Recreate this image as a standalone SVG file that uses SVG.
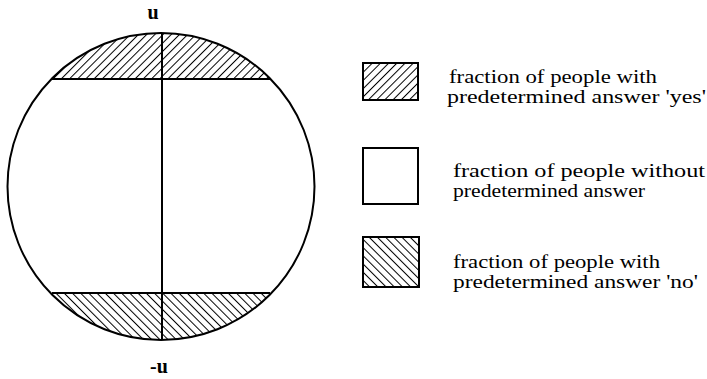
<svg xmlns="http://www.w3.org/2000/svg" width="707" height="379" viewBox="0 0 707 379">
<style>
.ln{fill:none;stroke:#000;stroke-width:2}
.t{font-family:"Liberation Serif","Times New Roman",serif;font-size:18px;fill:#000}
.lbl{font-family:"Liberation Serif","Times New Roman",serif;font-size:20px;fill:#000;font-weight:bold}
</style>
<defs>
<pattern id="yes" patternUnits="userSpaceOnUse" width="5.8" height="8" patternTransform="rotate(45)">
<line x1="0" y1="0" x2="0" y2="8" stroke="#000" stroke-width="2"/>
</pattern>
<pattern id="no" patternUnits="userSpaceOnUse" width="5.8" height="8" patternTransform="rotate(-45)">
<line x1="0" y1="0" x2="0" y2="8" stroke="#000" stroke-width="2"/>
</pattern>
<clipPath id="circ"><circle cx="161" cy="186.5" r="153.5"/></clipPath>
</defs>
<g id="circle">
<g clip-path="url(#circ)">
<rect x="0" y="30" width="330" height="49" fill="url(#yes)"/>
<rect x="0" y="293" width="330" height="50" fill="url(#no)"/>
</g>
<circle cx="161" cy="186.5" r="153.5" class="ln"/>
<line x1="52" y1="79" x2="270" y2="79" class="ln"/>
<line x1="52" y1="293" x2="270" y2="293" class="ln"/>
<line x1="162" y1="33" x2="162" y2="340" class="ln"/>
</g>
<g id="label-u"><text x="153" y="19" class="lbl" text-anchor="middle">u</text></g>
<g id="label-minus-u"><text x="159" y="373" class="lbl" text-anchor="middle">-u</text></g>
<g id="legend-yes">
<rect x="363" y="63" width="55" height="37" fill="url(#yes)" stroke="#000" stroke-width="2"/>
<text x="449" y="83" class="t" textLength="208" lengthAdjust="spacingAndGlyphs">fraction of people with</text>
<text x="447" y="103" class="t" textLength="259" lengthAdjust="spacingAndGlyphs">predetermined answer 'yes'</text>
</g>
<g id="legend-none">
<rect x="363" y="148" width="55" height="56" fill="#fff" stroke="#000" stroke-width="2"/>
<text x="453" y="177" class="t" textLength="252" lengthAdjust="spacingAndGlyphs">fraction of people without</text>
<text x="453" y="197" class="t" textLength="192" lengthAdjust="spacingAndGlyphs">predetermined answer</text>
</g>
<g id="legend-no">
<rect x="363" y="237" width="56" height="50" fill="url(#no)" stroke="#000" stroke-width="2"/>
<text x="453" y="268" class="t" textLength="207" lengthAdjust="spacingAndGlyphs">fraction of people with</text>
<text x="453" y="288" class="t" textLength="245" lengthAdjust="spacingAndGlyphs">predetermined answer 'no'</text>
</g>
</svg>
